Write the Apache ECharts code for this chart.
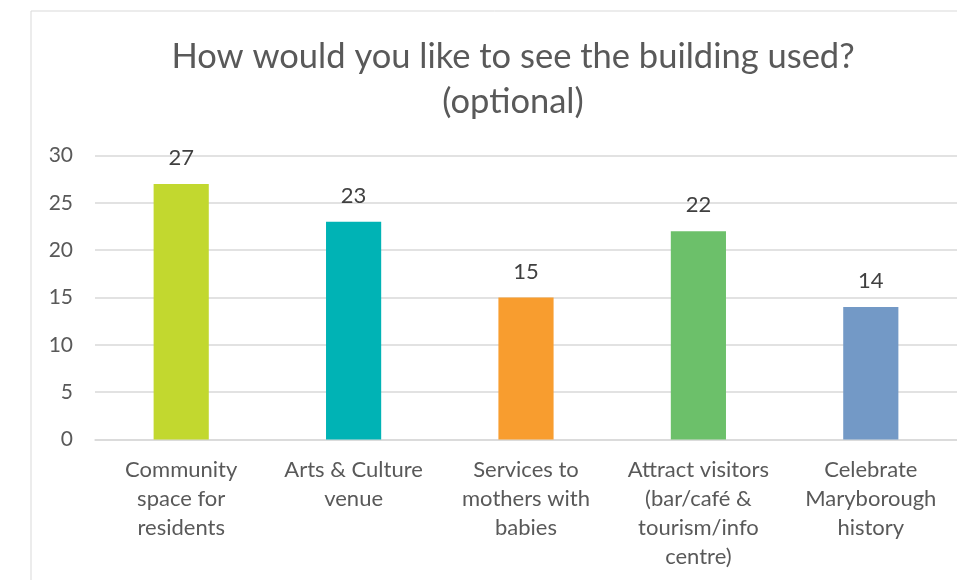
<!DOCTYPE html>
<html><head><meta charset="utf-8">
<script src="https://cdn.jsdelivr.net/npm/echarts@6/dist/echarts.min.js"></script>
<style>html,body{margin:0;padding:0;background:#fff}#c{width:957px;height:580px}</style>
</head><body><div id="c"></div>
<script>
var titleText = 'How would you like to see the building used?\n(optional)';
var categories = ['Community\nspace for\nresidents', 'Arts & Culture\nvenue', 'Services to\nmothers with\nbabies', 'Attract visitors\n(bar/café &\ntourism/info\ncentre)', 'Celebrate\nMaryborough\nhistory'];
var values = [27, 23, 15, 22, 14];
var colors = ['#c2d82f', '#00b3b5', '#f89d2f', '#6cc06a', '#7399c6'];
var yTicks = [0, 5, 10, 15, 20, 25, 30];
var FONT = 'Lato';
var chart = echarts.init(document.getElementById('c'), null, {renderer: 'canvas'});
chart.setOption({
  animation: false,
  backgroundColor: '#fff',
  graphic: [{type: 'rect', shape: {x: 31, y: 11, width: 960, height: 600}, style: {fill: 'none', stroke: '#d9d9d9', lineWidth: 1}}],
  title: {
    text: titleText, left: 508, textAlign: 'center', top: 29,
    textStyle: {fontFamily: FONT, fontSize: 34.5, fontWeight: 'normal', color: '#595959', lineHeight: 45}
  },
  grid: {left: 95, right: -2, top: 155.5, bottom: 140.5, containLabel: false},
  xAxis: {
    type: 'category', data: categories,
    axisLine: {lineStyle: {color: '#d9d9d9', width: 1.5}},
    axisTick: {show: false},
    axisLabel: {fontFamily: FONT, fontSize: 22, color: '#595959', lineHeight: 29, margin: 16, interval: 0}
  },
  yAxis: {
    type: 'value', min: yTicks[0], max: yTicks[yTicks.length - 1], interval: 5,
    axisLine: {show: false}, axisTick: {show: false},
    splitLine: {lineStyle: {color: '#d9d9d9', width: 1.5}},
    axisLabel: {fontFamily: FONT, fontSize: 21, color: '#595959', margin: 22}
  },
  series: [{
    type: 'bar', barWidth: '32%',
    data: values.map(function (v, i) { return {value: v, itemStyle: {color: colors[i]}}; }),
    label: {show: true, position: 'top', distance: 15, fontFamily: FONT, fontSize: 22, color: '#404040'}
  }]
});
</script></body></html>
